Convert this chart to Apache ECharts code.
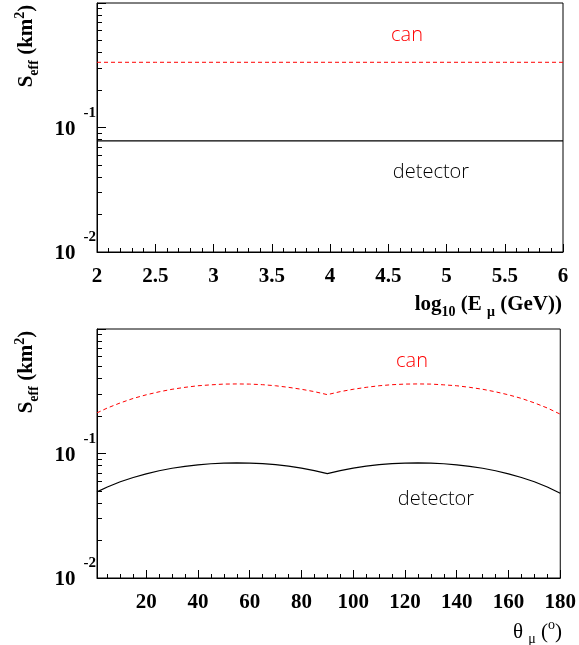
<!DOCTYPE html>
<html><head><meta charset="utf-8">
<script src="https://cdn.jsdelivr.net/npm/echarts@6/dist/echarts.min.js"></script>
<style>html,body{margin:0;padding:0;background:#fff}#c{width:579px;height:645px}</style>
</head><body><div id="c"></div>
<script>
// ---- data ----
const logE = [2, 2.5, 3, 3.5, 4, 4.5, 5, 5.5, 6];
const canVsE = [0.334, 0.334, 0.334, 0.334, 0.334, 0.334, 0.334, 0.334, 0.334];
const detVsE = [0.078, 0.078, 0.078, 0.078, 0.078, 0.078, 0.078, 0.078, 0.078];

const theta = [1, 5, 10, 15, 20, 25, 30, 35, 40, 45, 50, 55, 60, 65, 70, 75, 80, 85, 90,
               95, 100, 105, 110, 115, 120, 125, 130, 135, 140, 145, 150, 155, 160, 165, 170, 175, 180];
const canVsTheta = [0.212, 0.232, 0.255, 0.277, 0.296, 0.313, 0.328, 0.340, 0.350, 0.356, 0.361, 0.362, 0.361, 0.357, 0.350, 0.340, 0.328, 0.314, 0.297,
                    0.314, 0.328, 0.340, 0.350, 0.357, 0.361, 0.362, 0.361, 0.356, 0.350, 0.340, 0.328, 0.313, 0.296, 0.277, 0.255, 0.232, 0.207];
const detVsTheta = [0.0492, 0.0538, 0.0593, 0.0642, 0.0687, 0.0727, 0.0761, 0.0789, 0.0811, 0.0827, 0.0837, 0.0841, 0.0838, 0.0828, 0.0813, 0.0791, 0.0763, 0.0729, 0.0690,
                    0.0729, 0.0763, 0.0791, 0.0813, 0.0828, 0.0838, 0.0841, 0.0837, 0.0827, 0.0811, 0.0789, 0.0761, 0.0727, 0.0687, 0.0642, 0.0593, 0.0538, 0.0480];

const yMajorTicks = [0.01, 0.1, 1];
const yMinorTicks = [0.02, 0.03, 0.04, 0.05, 0.06, 0.07, 0.08, 0.09, 0.2, 0.3, 0.4, 0.5, 0.6, 0.7, 0.8, 0.9];
const yLabelValues = [0.01, 0.1];
const thetaMajorTicks = [20, 40, 60, 80, 100, 120, 140, 160, 180];
const thetaMinorTicks = [5, 10, 15, 25, 30, 35, 45, 50, 55, 65, 70, 75, 85, 90, 95, 105, 110, 115, 125, 130, 135, 145, 150, 155, 165, 170, 175];

// ---- styles ----
const serif = 'Liberation Serif';
const sans = 'Open Sans';
const black = '#000';
const red = '#ff0000';

function yMain(g) {
  return {
    type: 'log', logBase: 10, gridIndex: g, position: 'left', min: 0.01, max: 1,
    axisLine: { show: true, lineStyle: { color: black, width: 1 } },
    axisTick: { show: true, inside: true, length: 9, customValues: yMajorTicks, lineStyle: { color: black } },
    axisLabel: {
      show: true, customValues: yLabelValues, margin: 1, color: black, padding: [4, 0, 0, 0],
      formatter: v => '{b|10}{s|' + Math.round(Math.log10(v)) + '}',
      rich: {
        b: { fontFamily: serif, fontWeight: 'bold', fontSize: 21, color: black, lineHeight: 48 },
        s: { fontFamily: serif, fontWeight: 'bold', fontSize: 15, color: black, verticalAlign: 'top', padding: [0, 0, 0, 8] }
      }
    },
    splitLine: { show: false }
  };
}
function yMinor(g) {
  return {
    type: 'log', logBase: 10, gridIndex: g, position: 'left', min: 0.01, max: 1,
    axisLine: { show: false },
    axisTick: { show: true, inside: true, length: 5, customValues: yMinorTicks, lineStyle: { color: black } },
    axisLabel: { show: false },
    splitLine: { show: false }
  };
}
const xLabel = { margin: 14, fontFamily: serif, fontWeight: 'bold', fontSize: 21, color: black, showMinLabel: true, showMaxLabel: true };

const option = {
  animation: false,
  backgroundColor: '#fff',
  grid: [
    { left: 97, top: 3, width: 466, height: 249, show: true, borderColor: black, borderWidth: 1, backgroundColor: 'transparent' },
    { left: 97, top: 329, width: 466, height: 249, show: true, borderColor: black, borderWidth: 1, backgroundColor: 'transparent' }
  ],
  xAxis: [
    {
      gridIndex: 0, type: 'value', position: 'bottom', min: 2, max: 6, interval: 0.5,
      axisLine: { show: true, lineStyle: { color: black, width: 1 } },
      axisTick: { show: true, inside: true, length: 8, lineStyle: { color: black } },
      minorTick: { show: true, splitNumber: 5, length: 4, lineStyle: { color: black } },
      axisLabel: Object.assign({ formatter: v => String(v) }, xLabel),
      splitLine: { show: false }, minorSplitLine: { show: false }
    },
    {
      gridIndex: 1, type: 'value', position: 'bottom', min: 1, max: 180,
      axisLine: { show: true, lineStyle: { color: black, width: 1 } },
      axisTick: { show: true, inside: true, length: 8, customValues: thetaMajorTicks, lineStyle: { color: black } },
      axisLabel: Object.assign({ customValues: thetaMajorTicks, formatter: v => String(v) }, xLabel),
      splitLine: { show: false }
    },
    {
      gridIndex: 1, type: 'value', position: 'bottom', min: 1, max: 180,
      axisLine: { show: false },
      axisTick: { show: true, inside: true, length: 4, customValues: thetaMinorTicks, lineStyle: { color: black } },
      axisLabel: { show: false },
      splitLine: { show: false }
    }
  ],
  yAxis: [yMain(0), yMinor(0), yMain(1), yMinor(1)],
  series: [
    { type: 'line', xAxisIndex: 0, yAxisIndex: 0, showSymbol: false, silent: true,
      data: logE.map((x, i) => [x, canVsE[i]]), lineStyle: { color: red, width: 1, type: [4, 3] } },
    { type: 'line', xAxisIndex: 0, yAxisIndex: 0, showSymbol: false, silent: true,
      data: logE.map((x, i) => [x, detVsE[i]]), lineStyle: { color: black, width: 1.2 } },
    { type: 'line', xAxisIndex: 1, yAxisIndex: 2, showSymbol: false, silent: true,
      data: theta.map((x, i) => [x, canVsTheta[i]]), lineStyle: { color: red, width: 1, type: [4, 3] } },
    { type: 'line', xAxisIndex: 1, yAxisIndex: 2, showSymbol: false, silent: true,
      data: theta.map((x, i) => [x, detVsTheta[i]]), lineStyle: { color: black, width: 1.2 } }
  ],
  graphic: [
    // y titles
    { type: 'text', x: 27, y: 46, rotation: Math.PI / 2, silent: true,
      style: { text: '{m|S}{sub|eff}{m| (km}{sup|2}{m|)}', align: 'center', verticalAlign: 'middle',
        rich: {
          m: { fontFamily: serif, fontWeight: 'bold', fontSize: 21, fill: black, lineHeight: 28 },
          sub: { fontFamily: serif, fontWeight: 'bold', fontSize: 14, fill: black, verticalAlign: 'bottom' },
          sup: { fontFamily: serif, fontWeight: 'bold', fontSize: 14, fill: black, verticalAlign: 'top' }
        } } },
    { type: 'text', x: 27, y: 372, rotation: Math.PI / 2, silent: true,
      style: { text: '{m|S}{sub|eff}{m| (km}{sup|2}{m|)}', align: 'center', verticalAlign: 'middle',
        rich: {
          m: { fontFamily: serif, fontWeight: 'bold', fontSize: 21, fill: black, lineHeight: 28 },
          sub: { fontFamily: serif, fontWeight: 'bold', fontSize: 14, fill: black, verticalAlign: 'bottom' },
          sup: { fontFamily: serif, fontWeight: 'bold', fontSize: 14, fill: black, verticalAlign: 'top' }
        } } },
    // x titles
    { type: 'text', x: 562, y: 305, silent: true,
      style: { text: '{m|log}{sub|10}{m| (E }{sub|μ}{m| (GeV))}', align: 'right', verticalAlign: 'middle',
        rich: {
          m: { fontFamily: serif, fontWeight: 'bold', fontSize: 21, fill: black, lineHeight: 28 },
          sub: { fontFamily: serif, fontWeight: 'bold', fontSize: 14, fill: black, verticalAlign: 'bottom' }
        } } },
    { type: 'text', x: 562, y: 632, silent: true,
      style: { text: '{m|θ }{sub|μ}{m| (}{sup|o}{m|)}', align: 'right', verticalAlign: 'middle',
        rich: {
          m: { fontFamily: serif, fontSize: 21, fill: black, lineHeight: 28 },
          sub: { fontFamily: serif, fontSize: 14, fill: black, verticalAlign: 'bottom' },
          sup: { fontFamily: serif, fontSize: 14, fill: black, verticalAlign: 'top' }
        } } },
    // annotations
    { type: 'text', x: 407, y: 35, silent: true,
      style: { text: 'can', fill: red, fontFamily: sans, fontWeight: 300, fontSize: 20, align: 'center', verticalAlign: 'middle' } },
    { type: 'text', x: 431, y: 172, silent: true,
      style: { text: 'detector', fill: black, fontFamily: sans, fontWeight: 300, fontSize: 20, align: 'center', verticalAlign: 'middle' } },
    { type: 'text', x: 412, y: 361, silent: true,
      style: { text: 'can', fill: red, fontFamily: sans, fontWeight: 300, fontSize: 20, align: 'center', verticalAlign: 'middle' } },
    { type: 'text', x: 436, y: 499, silent: true,
      style: { text: 'detector', fill: black, fontFamily: sans, fontWeight: 300, fontSize: 20, align: 'center', verticalAlign: 'middle' } }
  ]
};
const chart = echarts.init(document.getElementById('c'), null, { renderer: 'canvas' });
chart.setOption(option);
</script>
</body></html>
